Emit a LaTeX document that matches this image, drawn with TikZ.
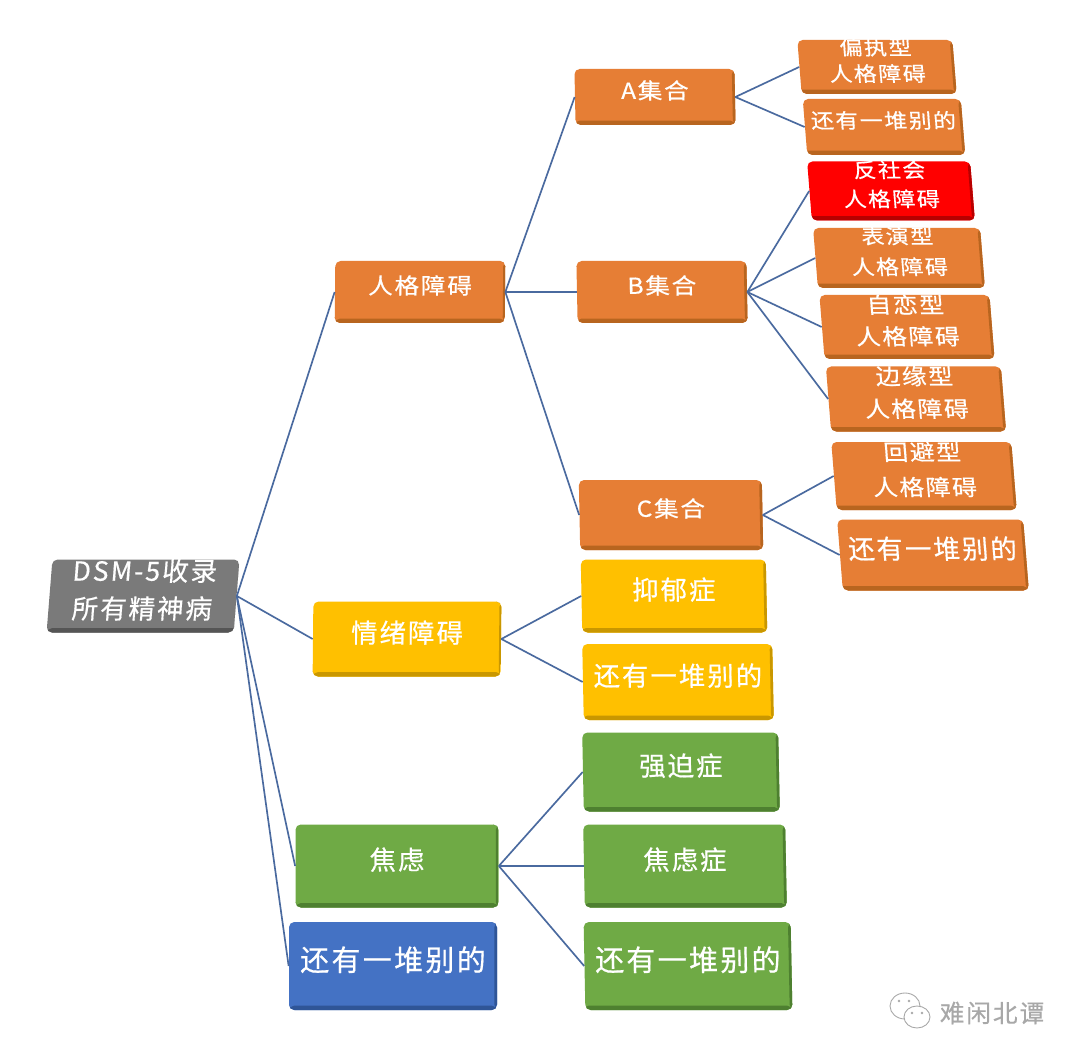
\documentclass[tikz,border=0pt]{standalone}
\usepackage{fontspec}
\setmainfont[LetterSpace=8,FakeBold=0.5]{Noto Sans CJK SC}
\usepackage{xcolor}
\definecolor{boxorange}{HTML}{E67E35}
\definecolor{darkorange}{HTML}{B8651F}
\definecolor{boxyellow}{HTML}{FFC000}
\definecolor{darkyellow}{HTML}{C99700}
\definecolor{boxgreen}{HTML}{6FAA45}
\definecolor{darkgreen}{HTML}{4E8030}
\definecolor{boxblue}{HTML}{4472C4}
\definecolor{darkblue}{HTML}{2F5597}
\definecolor{boxgray}{HTML}{7A7A7A}
\definecolor{darkgray}{HTML}{555555}
\definecolor{boxred}{HTML}{FF0000}
\definecolor{darkred}{HTML}{B80000}
\definecolor{linkblue}{HTML}{4A6A9F}
\definecolor{markgray}{HTML}{A8A8A8}
\tikzset{
  bx/.style n args={3}{rounded corners=3pt, text=white, align=center, inner xsep=0pt, inner ysep=-6pt, transform shape,
    minimum width=#1*0.02cm, minimum height=#2*0.02cm, xslant=#3,
    execute at end node={\rule[-8.5pt]{0pt}{0pt}}},
  bevel/.style={path picture={
      \fill[#1] ([yshift=2.5pt]path picture bounding box.south west) rectangle (path picture bounding box.south east);
      \fill[#1] ([xshift=-1.5pt]path picture bounding box.south east) rectangle (path picture bounding box.north east);
      }},
  link/.style={draw=linkblue, line width=0.95pt},
}
\newcommand{\szA}{\fontsize{11.5}{15}\selectfont\addfontfeature{FakeStretch=1.13}}
\newcommand{\szE}{\fontsize{12.5}{18}\selectfont\addfontfeature{FakeStretch=1.12}}
\newcommand{\szB}{\fontsize{15}{20}\selectfont}
\newcommand{\szD}{\fontsize{16.5}{20}\selectfont}
\begin{document}
\begin{tikzpicture}[x=0.02cm,y=-0.02cm]
  \useasboundingbox[fill=white] (0,0) rectangle (1080,1061);
  % root
  \node[bx={187}{73}{0.08},fill=boxgray,bevel=darkgray,font=\szB] (root) at (143,596) {DSM-5收录\\[1.5pt]所有精神病};
  % first level
  \node[bx={170}{62}{0.01},fill=boxorange,bevel=darkorange,font=\szE] (person) at (420,292) {人格障碍};
  \node[bx={188}{75}{0.01},fill=boxyellow,bevel=darkyellow,font=\szB] (mood) at (407,639) {情绪障碍};
  \node[bx={203}{83}{0},fill=boxgreen,bevel=darkgreen,font=\szB] (anx) at (397,866) {焦虑};
  \node[bx={208}{88}{0},fill=boxblue,bevel=darkblue,font=\szD] (other) at (393,966) {还有一堆别的};
  % clusters
  \node[bx={160}{56}{-0.02},fill=boxorange,bevel=darkorange,font=\szE] (clA) at (655,97) {A集合};
  \node[bx={170}{62}{-0.02},fill=boxorange,bevel=darkorange,font=\szE] (clB) at (662,292) {B集合};
  \node[bx={183}{70}{-0.02},fill=boxorange,bevel=darkorange,font=\szE] (clC) at (671,515) {C集合};
  % A leaves
  \node[bx={155}{54}{-0.08},fill=boxorange,bevel=darkorange,font=\szA] (para) at (877,67) {偏执型\\人格障碍};
  \node[bx={158}{56}{-0.08},fill=boxorange,bevel=darkorange,font=\szA] (otherA) at (884,127) {还有一堆别的};
  % B leaves
  \node[bx={163}{59}{-0.08},fill=boxred,bevel=darkred,font=\szA] (anti) at (891,191) {反社会\\[1.5pt]人格障碍};
  \node[bx={167}{60}{-0.08},fill=boxorange,bevel=darkorange,font=\szA] (hist) at (899,258) {表演型\\[2.5pt]人格障碍};
  \node[bx={170}{64}{-0.08},fill=boxorange,bevel=darkorange,font=\szE] (narc) at (907,327) {自恋型\\人格障碍};
  \node[bx={175}{65}{-0.08},fill=boxorange,bevel=darkorange,font=\szE] (bord) at (916,399) {边缘型\\[0.5pt]人格障碍};
  % C leaves
  \node[bx={180}{68}{-0.08},fill=boxorange,bevel=darkorange,font=\szE] (avoid) at (924,476) {回避型\\[2pt]人格障碍};
  \node[bx={186}{71}{-0.08},fill=boxorange,bevel=darkorange,font=\szB] (otherC) at (933,555) {还有一堆别的};
  % mood leaves
  \node[bx={185}{73}{-0.02},fill=boxyellow,bevel=darkyellow,font=\szB] (dep) at (674,596) {抑郁症};
  \node[bx={190}{76}{-0.02},fill=boxyellow,bevel=darkyellow,font=\szB] (otherM) at (678,682) {还有一堆别的};
  % anxiety leaves
  \node[bx={196}{79}{-0.02},fill=boxgreen,bevel=darkgreen,font=\szB] (ocd) at (681,772) {强迫症};
  \node[bx={202}{83}{-0.02},fill=boxgreen,bevel=darkgreen,font=\szB] (anxd) at (685,866) {焦虑症};
  \node[bx={207}{88}{-0.02},fill=boxgreen,bevel=darkgreen,font=\szD] (otherX) at (688,966) {还有一堆别的};
  % connectors
  \draw[link] (root.east) -- (person.west);
  \draw[link] (root.east) -- (mood.west);
  \draw[link] (root.east) -- (anx.west);
  \draw[link] (root.east) -- (other.west);
  \draw[link] (person.east) -- (clA.west);
  \draw[link] (person.east) -- (clB.west);
  \draw[link] (person.east) -- (clC.west);
  \draw[link] (clA.east) -- (para.west);
  \draw[link] (clA.east) -- (otherA.west);
  \draw[link] (clB.east) -- (anti.west);
  \draw[link] (clB.east) -- (hist.west);
  \draw[link] (clB.east) -- (narc.west);
  \draw[link] (clB.east) -- (bord.west);
  \draw[link] (clC.east) -- (avoid.west);
  \draw[link] (clC.east) -- (otherC.west);
  \draw[link] (mood.east) -- (dep.west);
  \draw[link] (mood.east) -- (otherM.west);
  \draw[link] (anx.east) -- (ocd.west);
  \draw[link] (anx.east) -- (anxd.west);
  \draw[link] (anx.east) -- (otherX.west);
  % watermark
  \draw[markgray,line width=0.5pt] (905,1006) ellipse (15 and 13);
  \draw[markgray,fill=white,line width=0.5pt] (917,1017) ellipse (13 and 11);
  \fill[markgray] (899,1001) circle (1.3) (909,1001) circle (1.3) (912,1013) circle (1.3) (922,1013) circle (1.3);
  \node[text=markgray,font=\fontsize{14}{15}\selectfont] (mark) at (992,1013) {难闲北谭};
\end{tikzpicture}
\end{document}
